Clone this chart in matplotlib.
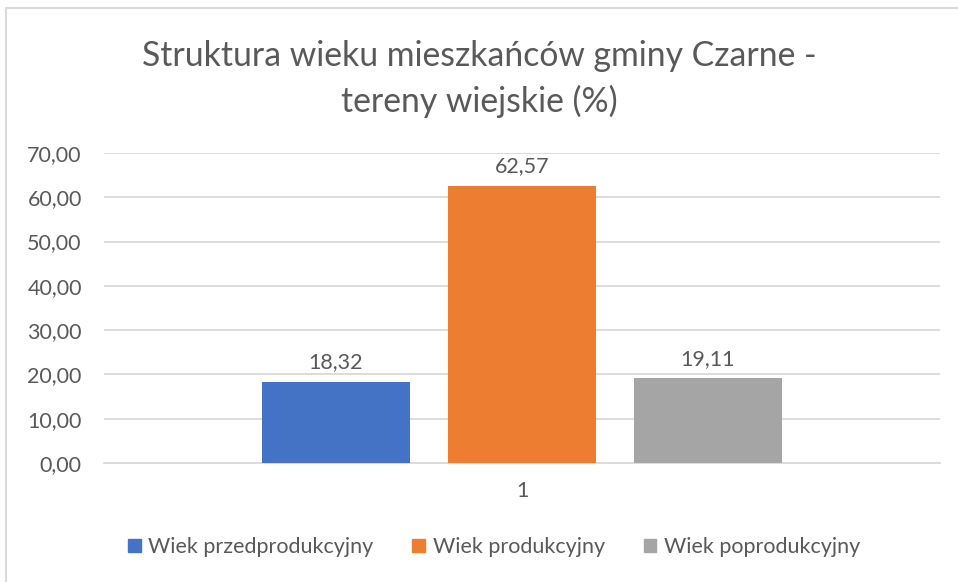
import matplotlib
matplotlib.use("Agg")
import matplotlib.pyplot as plt
from matplotlib.patches import Rectangle, Patch

# data
categories = ["1"]
series_names = ["Wiek przedprodukcyjny", "Wiek produkcyjny", "Wiek poprodukcyjny"]
series_values = [18.32, 62.57, 19.11]
series_colors = ["#4472C4", "#ED7D31", "#A5A5A5"]
y_ticks = [0, 10, 20, 30, 40, 50, 60, 70]

plt.rcParams['font.family'] = ['Lato', 'DejaVu Sans']
text_color = "#595959"
fs = 15.5

fig = plt.figure(figsize=(9.58, 5.82), dpi=100)
ax = fig.add_axes([104 / 958, 1 - 463 / 582, 836 / 958, 310 / 582])

# bars of a single category group, placed like Excel's clustered columns
bar_w = 0.176
step = 0.2225
for i, (name, val, col) in enumerate(zip(series_names, series_values, series_colors)):
    x = 0.5 + (i - 1) * step
    ax.bar(x, val, width=bar_w, color=col, label=name, zorder=3)
    ax.text(x, val + 2.2, f"{val:.2f}".replace(".", ","), ha="center", va="bottom",
            fontsize=fs, color=text_color)

ax.set_xlim(0, 1)
ax.set_ylim(0, 70)
ax.set_yticks(y_ticks)
ax.set_yticklabels([f"{t:.2f}".replace(".", ",") for t in y_ticks], fontsize=fs, color=text_color)
ax.set_xticks([0.5])
ax.set_xticklabels(categories, fontsize=fs, color=text_color)
ax.tick_params(axis="both", length=0)
ax.tick_params(axis="y", pad=16)
ax.tick_params(axis="x", pad=13)
ax.grid(axis="y", color="#D9D9D9", linewidth=1.3, zorder=0)
for s in ["top", "right", "left"]:
    ax.spines[s].set_visible(False)
ax.spines["bottom"].set_color("#D9D9D9")
ax.spines["bottom"].set_linewidth(1.3)

fig.text(0.5, 1 - 79 / 582, "Struktura wieku mieszkańców gminy Czarne -\ntereny wiejskie (%)",
         ha="center", va="center", fontsize=24.3, color=text_color, linespacing=1.45)

handles = [Patch(color=c) for c in series_colors]
fig.legend(handles, series_names, loc="center", bbox_to_anchor=(494 / 958, 1 - 547 / 582),
           ncol=3, frameon=False, fontsize=fs, handlelength=0.6, handleheight=0.6,
           handletextpad=0.35, columnspacing=1.8, labelcolor=text_color)

# chart area border
fig.add_artist(Rectangle((6 / 958, -0.1), 1.2, 1 - 8 / 582 + 0.1, transform=fig.transFigure,
                         fill=False, edgecolor="#D9D9D9", linewidth=1.5))

fig.savefig("out.png", dpi=100)
